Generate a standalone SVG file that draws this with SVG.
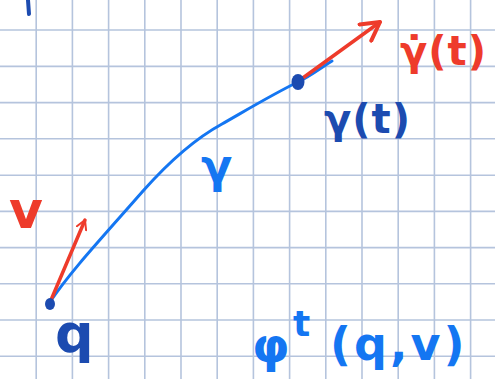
<svg xmlns="http://www.w3.org/2000/svg" width="495" height="379" viewBox="0 0 495 379">
<defs>
<style>
.grid line{stroke:#b5c4dd;stroke-width:1.6}
.t{font-family:"DejaVu Sans","Noto Sans",sans-serif;font-weight:bold}
.red{fill:#ee3b2b}
.dk{fill:#1c4bb0}
.bl{fill:#1476f2}
</style>
<marker id="ah" viewBox="0 0 12 12" refX="10" refY="6" markerWidth="12" markerHeight="12" markerUnits="userSpaceOnUse" orient="auto">
<path d="M1,1 L10,6 L1,11" fill="none" stroke="#ee3b2b" stroke-width="2" stroke-linecap="round" stroke-linejoin="round"/>
</marker>
<marker id="ah2" viewBox="0 0 24 24" refX="20" refY="12" markerWidth="24" markerHeight="24" markerUnits="userSpaceOnUse" orient="auto">
<path d="M2,2 L20,12 L2,22" fill="none" stroke="#ee3b2b" stroke-width="4" stroke-linecap="round" stroke-linejoin="round"/>
</marker>
</defs>
<rect width="495" height="379" fill="#ffffff"/>
<g class="grid">
<line x1="36.2" y1="0" x2="36.2" y2="379"/>
<line x1="72.4" y1="0" x2="72.4" y2="379"/>
<line x1="108.6" y1="0" x2="108.6" y2="379"/>
<line x1="144.8" y1="0" x2="144.8" y2="379"/>
<line x1="181" y1="0" x2="181" y2="379"/>
<line x1="217.2" y1="0" x2="217.2" y2="379"/>
<line x1="253.4" y1="0" x2="253.4" y2="379"/>
<line x1="289.6" y1="0" x2="289.6" y2="379"/>
<line x1="325.8" y1="0" x2="325.8" y2="379"/>
<line x1="362" y1="0" x2="362" y2="379"/>
<line x1="398.2" y1="0" x2="398.2" y2="379"/>
<line x1="434.4" y1="0" x2="434.4" y2="379"/>
<line x1="470.6" y1="0" x2="470.6" y2="379"/>
<line x1="0" y1="30" x2="495" y2="30"/>
<line x1="0" y1="66.4" x2="495" y2="66.4"/>
<line x1="0" y1="102.6" x2="495" y2="102.6"/>
<line x1="0" y1="138.8" x2="495" y2="138.8"/>
<line x1="0" y1="175.2" x2="495" y2="175.2"/>
<line x1="0" y1="211.4" x2="495" y2="211.4"/>
<line x1="0" y1="247.6" x2="495" y2="247.6"/>
<line x1="0" y1="283.8" x2="495" y2="283.8"/>
<line x1="0" y1="320" x2="495" y2="320"/>
<line x1="0" y1="356.2" x2="495" y2="356.2"/>
</g>
<line x1="28" y1="0" x2="29" y2="14" stroke="#1c4bb0" stroke-width="4" stroke-linecap="round"/>
<g id="connectors" fill="none" stroke-linecap="round">
<path id="curve" d="M50,302 C70,272 100,240 143,191 C175,155 200,136 222,124 C250,108 275,93 298,82 C312,75 322,67 332,61" stroke="#1476f2" stroke-width="3"/>
<path id="vel-v" d="M51,300 L85,220" stroke="#ee3b2b" stroke-width="3.5" marker-end="url(#ah)"/>
<path id="vel-gdot" d="M300,80 L380,22" stroke="#ee3b2b" stroke-width="3.5" marker-end="url(#ah2)"/>
</g>
<g id="node-q">
<ellipse cx="50" cy="304" rx="5" ry="6" fill="#1c4bb0"/>
<text class="t dk" x="55" y="352" font-size="54">q</text>
</g>
<g id="node-gamma-t">
<ellipse cx="298" cy="82" rx="6.5" ry="8" fill="#1c4bb0"/>
<text class="t dk" x="324" y="133" font-size="40" letter-spacing="1">γ(t)</text>
</g>
<g id="label-gdot">
<text class="t red" x="400" y="65" font-size="40" letter-spacing="1">γ̇(t)</text>
</g>
<g id="label-gamma">
<text class="t bl" x="201" y="182" font-size="46">γ</text>
</g>
<g id="label-v">
<text class="t red" x="9" y="228" font-size="52">v</text>
</g>
<g id="label-phi">
<text class="t bl" x="252" y="362" font-size="48">φ</text>
<text class="t bl" x="293" y="336" font-size="36">t</text>
<text class="t bl" x="330" y="360" font-size="46" letter-spacing="3">(q,v)</text>
</g>
</svg>
